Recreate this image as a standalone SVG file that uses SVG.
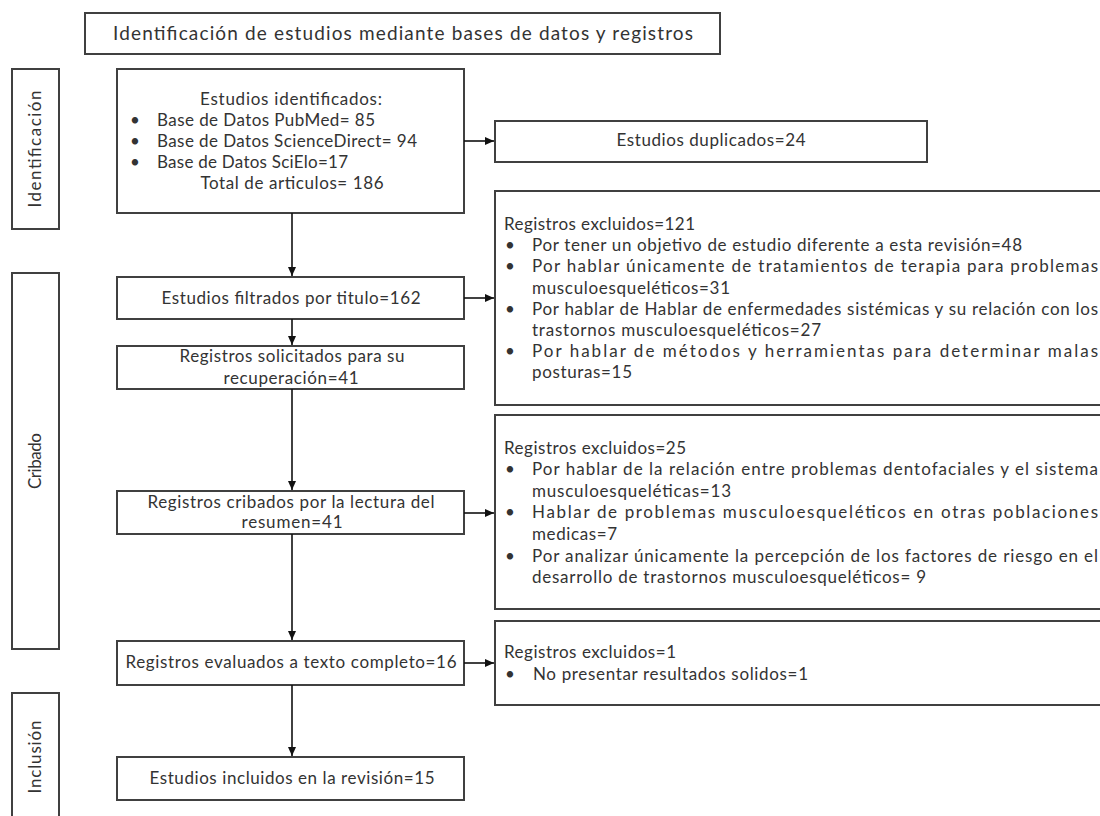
<svg xmlns="http://www.w3.org/2000/svg" width="1100" height="816" viewBox="0 0 1100 816">
<defs>
<marker id="ah" markerWidth="10" markerHeight="10" refX="9" refY="5" orient="auto" markerUnits="userSpaceOnUse">
<path d="M0,1 L9,5 L0,9 Z" fill="#111"/>
</marker>
<style>
.box{fill:#fff;stroke:#404040;stroke-width:2}
.t{font-family:Lato,"Liberation Sans",sans-serif;font-size:17px;fill:#333}
.ttl{font-size:19px}
.side{font-size:17px}
.c{text-anchor:middle}
.conn{stroke:#111;stroke-width:1.6;fill:none}
</style>
</defs>
<rect width="1100" height="816" fill="#fff"/>

<g id="title">
<rect class="box" x="85" y="13" width="635" height="41"/>
<text class="t ttl" x="113" y="40" textLength="580" lengthAdjust="spacing">Identificación de estudios mediante bases de datos y registros</text>
</g>

<g id="phase-identificacion">
<rect class="box" x="12" y="69" width="47" height="160"/>
<text class="t c side" transform="translate(41,149) rotate(-90)" textLength="117" lengthAdjust="spacing">Identificación</text>
</g>
<g id="phase-cribado">
<rect class="box" x="12" y="273" width="47" height="376"/>
<text class="t c side" transform="translate(41,461) rotate(-90)" textLength="56" lengthAdjust="spacing">Cribado</text>
</g>
<g id="phase-inclusion">
<rect class="box" x="12" y="693" width="47" height="140"/>
<text class="t c side" transform="translate(41,757) rotate(-90)" textLength="73" lengthAdjust="spacing">Inclusión</text>
</g>

<g id="identificados">
<rect class="box" x="117" y="69" width="347" height="144"/>
<text class="t c" x="291" y="105" textLength="182" lengthAdjust="spacing">Estudios identificados:</text>
<text class="t" x="130" y="126">•</text>
<text class="t" x="157" y="126" textLength="218" lengthAdjust="spacing">Base de Datos PubMed= 85</text>
<text class="t" x="130" y="147">•</text>
<text class="t" x="157" y="147" textLength="260" lengthAdjust="spacing">Base de Datos ScienceDirect= 94</text>
<text class="t" x="130" y="168">•</text>
<text class="t" x="157" y="168" textLength="191" lengthAdjust="spacing">Base de Datos SciElo=17</text>
<text class="t c" x="292" y="189" textLength="183" lengthAdjust="spacing">Total de articulos= 186</text>
</g>

<g id="duplicados">
<rect class="box" x="495" y="121" width="432" height="41"/>
<text class="t c" x="711" y="146" textLength="189" lengthAdjust="spacing">Estudios duplicados=24</text>
</g>

<g id="filtrados">
<rect class="box" x="117" y="277" width="347" height="42"/>
<text class="t c" x="291" y="304" textLength="259" lengthAdjust="spacing">Estudios filtrados por titulo=162</text>
</g>

<g id="solicitados">
<rect class="box" x="117" y="346" width="347" height="43"/>
<text class="t c" x="292" y="362" textLength="225" lengthAdjust="spacing">Registros solicitados para su</text>
<text class="t c" x="291" y="384" textLength="135" lengthAdjust="spacing">recuperación=41</text>
</g>

<g id="cribados">
<rect class="box" x="117" y="491" width="347" height="43"/>
<text class="t c" x="291" y="508" textLength="287" lengthAdjust="spacing">Registros cribados por la lectura del</text>
<text class="t c" x="292" y="528" textLength="101" lengthAdjust="spacing">resumen=41</text>
</g>

<g id="evaluados">
<rect class="box" x="117" y="641" width="347" height="44"/>
<text class="t c" x="291" y="668" textLength="331" lengthAdjust="spacing">Registros evaluados a texto completo=16</text>
</g>

<g id="incluidos">
<rect class="box" x="117" y="757" width="347" height="43"/>
<text class="t c" x="292" y="784" textLength="285" lengthAdjust="spacing">Estudios incluidos en la revisión=15</text>
</g>

<g id="excluidos-121">
<rect class="box" x="495" y="191" width="620" height="214"/>
<text class="t" x="504" y="230" textLength="191" lengthAdjust="spacing">Registros excluidos=121</text>
<text class="t" x="505" y="251">•</text>
<text class="t" x="532" y="251" textLength="490" lengthAdjust="spacing">Por tener un objetivo de estudio diferente a esta revisión=48</text>
<text class="t" x="505" y="272">•</text>
<text class="t" x="532" y="272" textLength="566" lengthAdjust="spacing">Por hablar únicamente de tratamientos de terapia para problemas</text>
<text class="t" x="532" y="294" textLength="198" lengthAdjust="spacing">musculoesqueléticos=31</text>
<text class="t" x="505" y="315">•</text>
<text class="t" x="532" y="315" textLength="566" lengthAdjust="spacing">Por hablar de Hablar de enfermedades sistémicas y su relación con los</text>
<text class="t" x="532" y="336" textLength="289" lengthAdjust="spacing">trastornos musculoesqueléticos=27</text>
<text class="t" x="505" y="357">•</text>
<text class="t" x="532" y="357" textLength="566" lengthAdjust="spacing">Por hablar de métodos y herramientas para determinar malas</text>
<text class="t" x="532" y="378" textLength="100" lengthAdjust="spacing">posturas=15</text>
</g>

<g id="excluidos-25">
<rect class="box" x="495" y="415" width="620" height="194"/>
<text class="t" x="504" y="454" textLength="182" lengthAdjust="spacing">Registros excluidos=25</text>
<text class="t" x="505" y="475">•</text>
<text class="t" x="532" y="475" textLength="566" lengthAdjust="spacing">Por hablar de la relación entre problemas dentofaciales y el sistema</text>
<text class="t" x="532" y="497" textLength="199" lengthAdjust="spacing">musculoesqueléticas=13</text>
<text class="t" x="505" y="518">•</text>
<text class="t" x="532" y="518" textLength="566" lengthAdjust="spacing">Hablar de problemas musculoesqueléticos en otras poblaciones</text>
<text class="t" x="532" y="540" textLength="85" lengthAdjust="spacing">medicas=7</text>
<text class="t" x="505" y="562">•</text>
<text class="t" x="532" y="562" textLength="566" lengthAdjust="spacing">Por analizar únicamente la percepción de los factores de riesgo en el</text>
<text class="t" x="532" y="583" textLength="394" lengthAdjust="spacing">desarrollo de trastornos musculoesqueléticos= 9</text>
</g>

<g id="excluidos-1">
<rect class="box" x="495" y="621" width="620" height="84"/>
<text class="t" x="504" y="658" textLength="172" lengthAdjust="spacing">Registros excluidos=1</text>
<text class="t" x="505" y="680">•</text>
<text class="t" x="533" y="680" textLength="275" lengthAdjust="spacing">No presentar resultados solidos=1</text>
</g>

<g id="connectors">
<line class="conn" x1="292" y1="213" x2="292" y2="276" marker-end="url(#ah)"/>
<line class="conn" x1="292" y1="319" x2="292" y2="345" marker-end="url(#ah)"/>
<line class="conn" x1="292" y1="389" x2="292" y2="490" marker-end="url(#ah)"/>
<line class="conn" x1="292" y1="534" x2="292" y2="640" marker-end="url(#ah)"/>
<line class="conn" x1="292" y1="685" x2="292" y2="756" marker-end="url(#ah)"/>
<line class="conn" x1="464" y1="141" x2="494" y2="141" marker-end="url(#ah)"/>
<line class="conn" x1="464" y1="298" x2="494" y2="298" marker-end="url(#ah)"/>
<line class="conn" x1="464" y1="513" x2="494" y2="513" marker-end="url(#ah)"/>
<line class="conn" x1="464" y1="663" x2="494" y2="663" marker-end="url(#ah)"/>
</g>
</svg>
